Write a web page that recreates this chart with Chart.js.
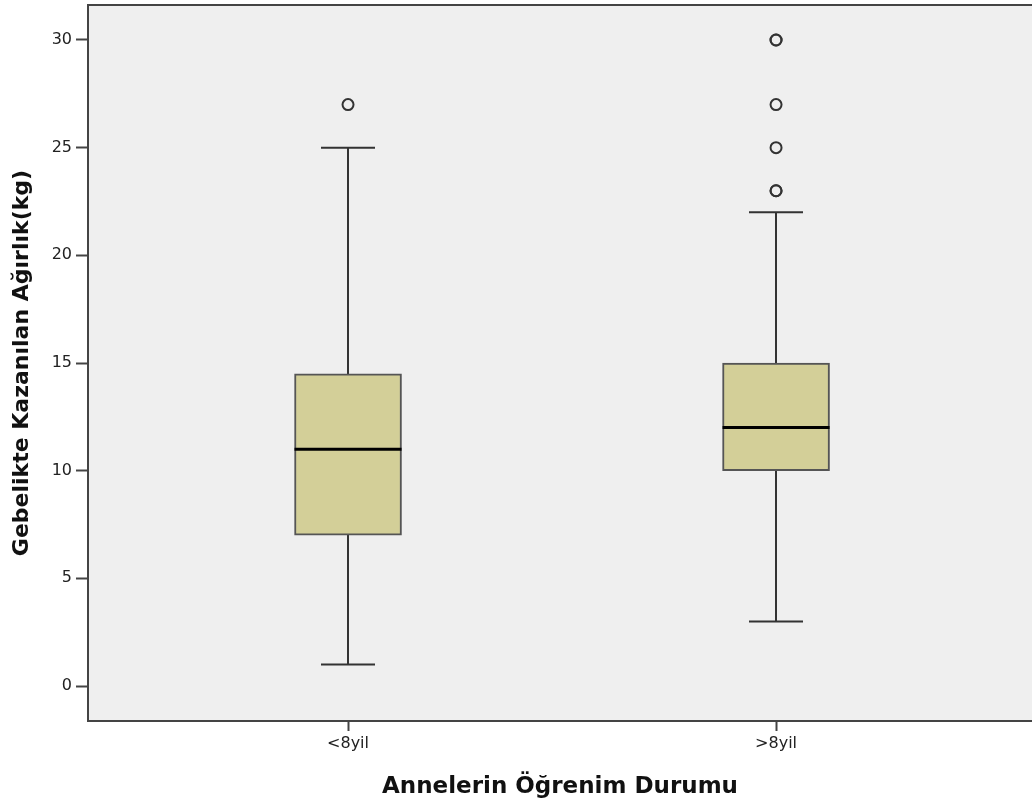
<!DOCTYPE html>
<html>
<head>
<meta charset="utf-8">
<script src="https://cdn.jsdelivr.net/npm/chart.js@4/dist/chart.umd.min.js"></script>
<style>
  html, body { margin: 0; padding: 0; background: #ffffff; overflow: hidden; }
  #wrap { width: 1032px; height: 801px; }
</style>
</head>
<body>
<div id="wrap"><canvas id="c" width="1032" height="801"></canvas></div>
<script>
const categories = ['<8yil', '>8yil'];
const positions = [1, 2];
const mins = [1, 3];
const q1s = [7, 10];
const medians = [11, 12];
const q3s = [14.5, 15];
const maxs = [25, 22];
const outliers = [[27], [23, 23, 25, 27, 30, 30]];
const yTicks = [0, 5, 10, 15, 20, 25, 30];
const xTitle = 'Annelerin Öğrenim Durumu';
const yTitle = 'Gebelikte Kazanılan Ağırlık(kg)';

const FONT = '"DejaVu Sans", Verdana, sans-serif';
const BOX_W = 107;
const CAP_W = 54;

const boxData = positions.map((p, i) => ({ x: p, y: [q1s[i], q3s[i]] }));
const outlierData = [];
positions.forEach((p, i) => outliers[i].forEach(v => outlierData.push({ x: p, y: v })));

function zeroPad(s) { s.paddingTop = 0; s.paddingBottom = 0; s.paddingLeft = 0; s.paddingRight = 0; }

const boxPlugin = {
  id: 'boxExtras',
  beforeDraw(chart) {
    const { ctx, chartArea: a } = chart;
    ctx.save();
    ctx.fillStyle = '#efefef';
    ctx.fillRect(a.left, a.top, a.right - a.left, a.bottom - a.top);
    ctx.strokeStyle = '#444';
    ctx.lineWidth = 2;
    ctx.beginPath();
    ctx.moveTo(a.left, a.top);
    ctx.lineTo(a.right + 2, a.top);
    ctx.stroke();
    ctx.restore();
  },
  beforeDatasetsDraw(chart) {
    const { ctx, scales: { x, y } } = chart;
    ctx.save();
    ctx.strokeStyle = '#333';
    ctx.lineWidth = 2;
    positions.forEach((p, i) => {
      const cx = Math.round(x.getPixelForValue(p));
      const yMin = y.getPixelForValue(mins[i]);
      const yMax = y.getPixelForValue(maxs[i]);
      ctx.beginPath();
      ctx.moveTo(cx, yMin); ctx.lineTo(cx, yMax);
      ctx.moveTo(cx - CAP_W / 2, yMin); ctx.lineTo(cx + CAP_W / 2, yMin);
      ctx.moveTo(cx - CAP_W / 2, yMax); ctx.lineTo(cx + CAP_W / 2, yMax);
      ctx.stroke();
    });
    ctx.restore();
  },
  afterDatasetsDraw(chart) {
    const { ctx, scales: { x, y } } = chart;
    ctx.save();
    ctx.strokeStyle = '#000';
    ctx.lineWidth = 3;
    positions.forEach((p, i) => {
      const cx = x.getPixelForValue(p);
      const ym = y.getPixelForValue(medians[i]);
      ctx.beginPath();
      ctx.moveTo(cx - BOX_W / 2, ym); ctx.lineTo(cx + BOX_W / 2, ym);
      ctx.stroke();
    });
    ctx.restore();
  }
};

new Chart(document.getElementById('c'), {
  type: 'bar',
  data: {
    datasets: [
      {
        type: 'bar',
        data: boxData,
        backgroundColor: '#d3cf98',
        borderColor: '#555',
        borderWidth: 2,
        borderSkipped: false,
        barThickness: BOX_W,
        order: 2
      },
      {
        type: 'scatter',
        data: outlierData,
        pointRadius: 5.5,
        pointBorderWidth: 2,
        pointBorderColor: '#333',
        pointBackgroundColor: 'rgba(0,0,0,0)',
        order: 1
      }
    ]
  },
  options: {
    responsive: false,
    animation: false,
    layout: { autoPadding: false, padding: { top: 5, right: 0, left: 0, bottom: 0 } },
    plugins: { legend: { display: false }, tooltip: { enabled: false } },
    scales: {
      x: {
        type: 'linear',
        offset: false,
        min: 0.3925,
        max: 2.598,
        afterBuildTicks: s => { s.ticks = positions.map(v => ({ value: v })); },
        afterFit: s => { s.height = 80; zeroPad(s); },
        ticks: {
          callback: v => categories[positions.indexOf(v)] ?? '',
          font: { family: FONT, size: 16 },
          color: '#222',
          padding: 3,
          maxRotation: 0
        },
        grid: { offset: false, drawOnChartArea: false, drawTicks: true, tickLength: 10, color: '#444', tickWidth: 2 },
        border: { display: true, color: '#444', width: 2 },
        title: {
          display: true,
          text: xTitle,
          font: { family: FONT, size: 23, weight: 'bold' },
          color: '#111',
          padding: { top: 9, bottom: 0 }
        }
      },
      y: {
        min: -1.625,
        max: 31.625,
        afterBuildTicks: s => { s.ticks = yTicks.map(v => ({ value: v })); },
        afterFit: s => { s.width = 88; zeroPad(s); },
        ticks: {
          font: { family: FONT, size: 16 },
          color: '#222',
          padding: 4
        },
        grid: { drawOnChartArea: false, drawTicks: true, tickLength: 12, color: '#444', tickWidth: 2 },
        border: { display: true, color: '#444', width: 2 },
        title: {
          display: true,
          text: yTitle,
          font: { family: FONT, size: 22, weight: 'bold' },
          color: '#111',
          padding: { top: 9, bottom: 0 }
        }
      }
    }
  },
  plugins: [boxPlugin]
});
</script>
</body>
</html>
